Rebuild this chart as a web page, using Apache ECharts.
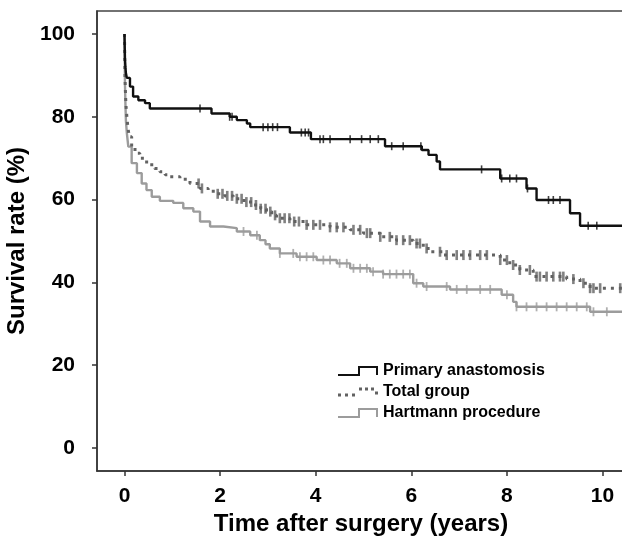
<!DOCTYPE html>
<html>
<head>
<meta charset="utf-8">
<script src="https://cdn.jsdelivr.net/npm/echarts@6/dist/echarts.min.js"></script>
<style>
  html, body { margin: 0; padding: 0; background: #fff; }
  #chart { width: 622px; height: 547px; }
</style>
</head>
<body>
<div id="chart"></div>
<script>
// tick labels
const xTicks = [0, 2, 4, 6, 8, 10];
const yTicks = [0, 20, 40, 60, 80, 100];

// Primary anastomosis: event times (years) and survival after each step (%)
const primaryTimes = [0, 0.005, 0.01, 0.02, 0.03, 0.05, 0.115, 0.18, 0.29, 0.43, 0.53, 1.82, 2.2, 2.35, 2.56, 2.63, 3.46, 3.9, 5.45, 6.22, 6.36, 6.53, 6.6, 7.86, 8.41, 8.62, 9.32, 9.53, 10.6];
const primaryRates = [100, 97, 94, 92, 90.5, 89.4, 87.3, 84.9, 84.0, 83.3, 82.0, 80.8, 80.0, 79.2, 78.4, 77.5, 76.2, 74.6, 72.9, 72.0, 70.8, 69.2, 67.3, 65.1, 62.7, 59.9, 56.7, 53.7, 53.7];
const primaryCensored = [1.58, 2.2, 2.25, 2.9, 3.0, 3.1, 3.2, 3.7, 3.78, 3.85, 4.09, 4.16, 4.3, 4.72, 4.96, 5.14, 5.31, 5.59, 5.83, 6.2, 7.47, 7.89, 8.06, 8.2, 8.43, 8.87, 8.97, 9.11, 9.7, 9.88];

// Total group
const totalTimes = [0, 0.005, 0.01, 0.02, 0.03, 0.05, 0.07, 0.1, 0.15, 0.22, 0.32, 0.42, 0.53, 0.63, 0.74, 0.85, 0.95, 1.16, 1.37, 1.58, 1.75, 1.93, 2.1, 2.28, 2.5, 2.69, 2.85, 2.97, 3.08, 3.18, 3.46, 3.81, 4.3, 4.72, 5.0, 5.35, 5.69, 6.04, 6.25, 6.39, 6.67, 7.86, 8.06, 8.27, 8.55, 9.25, 9.53, 9.74, 10.6];
const totalRates = [100, 95, 90, 86, 83, 80, 77.6, 75.2, 72.8, 71.2, 70.0, 69.1, 68.4, 67.5, 66.7, 66.0, 65.5, 64.9, 63.9, 62.7, 62.0, 61.4, 60.9, 60.2, 59.4, 58.7, 57.8, 57.1, 56.2, 55.5, 54.7, 53.9, 53.3, 52.7, 51.9, 51.0, 50.2, 49.4, 48.2, 47.4, 46.6, 45.4, 44.2, 43.0, 41.4, 40.8, 39.8, 38.6, 38.6];
const totalCensored = [1.55, 1.62, 1.95, 2.05, 2.15, 2.25, 2.35, 2.45, 2.55, 2.65, 2.75, 2.85, 2.95, 3.05, 3.15, 3.25, 3.35, 3.45, 3.55, 3.65, 3.81, 3.95, 4.09, 4.3, 4.44, 4.58, 4.79, 4.93, 5.07, 5.14, 5.35, 5.55, 5.69, 5.83, 5.97, 6.11, 6.18, 6.32, 6.6, 6.74, 6.95, 7.09, 7.23, 7.44, 7.58, 7.86, 8.0, 8.13, 8.27, 8.48, 8.62, 8.69, 8.83, 8.97, 9.11, 9.18, 9.39, 9.6, 9.74, 9.81, 9.95, 10.37];

// Hartmann procedure
const hartmannTimes = [0, 0.005, 0.01, 0.02, 0.03, 0.05, 0.08, 0.15, 0.26, 0.36, 0.46, 0.57, 0.74, 1.02, 1.23, 1.44, 1.58, 1.79, 2.07, 2.35, 2.63, 2.83, 2.95, 3.04, 3.25, 3.6, 4.02, 4.44, 4.72, 5.14, 5.41, 6.04, 6.25, 6.81, 7.89, 8.13, 8.2, 9.74, 10.6];
const hartmannRates = [100, 94, 88, 83, 79, 76, 72.8, 68.8, 66.4, 63.9, 62.3, 60.7, 59.7, 59.2, 57.9, 57.1, 54.7, 53.5, 53.1, 52.3, 51.4, 50.2, 49.2, 48.2, 47.0, 46.2, 45.4, 44.6, 43.4, 42.6, 42.0, 39.8, 39.0, 38.3, 37.0, 35.3, 34.1, 32.9, 32.9];
const hartmannCensored = [2.49, 2.77, 3.25, 3.53, 3.67, 3.81, 3.95, 4.16, 4.3, 4.5, 4.65, 4.79, 4.93, 5.07, 5.2, 5.41, 5.55, 5.69, 5.83, 5.97, 6.11, 6.32, 6.74, 6.95, 7.16, 7.44, 7.65, 8.0, 8.2, 8.41, 8.62, 8.83, 9.04, 9.25, 9.46, 9.67, 9.81, 10.09];

const FONT = '"Liberation Sans", Arial, sans-serif';

function pairs(times, rates) {
  return times.map((t, i) => [t, rates[i]]);
}

// survival value of the step curve at time t (for the censor marks)
function rateAt(times, rates, t) {
  let v = rates[0];
  for (let i = 0; i < times.length; i++) {
    if (times[i] <= t) v = rates[i];
  }
  return v;
}

function censorPoints(times, rates, cens) {
  return cens.map(t => [t, rateAt(times, rates, t)]);
}

// legend icons, drawn as a little KM step
const iconSolid = 'path://M0,8H20V0H40V9H38V2H22V10H0Z';
const iconDotted = 'path://M0,7h3v3h-3zM7,7h3v3h-3zM14,7h3v3h-3zM21,1h3v3h-3zM27,1h3v3h-3zM33,1h3v3h-3zM37,5h3v3h-3zM40,10h0v0z';

const chart = echarts.init(document.getElementById('chart'));

chart.setOption({
  animation: false,
  backgroundColor: '#fff',
  grid: {
    left: 97, right: -3, top: 11, bottom: 76,
    show: true, borderColor: '#444', borderWidth: 1.5,
    outerBoundsMode: 'none'
  },
  legend: {
    orient: 'vertical',
    left: 333, top: 356,
    itemWidth: 40, itemHeight: 10, itemGap: 1,
    data: [
      { name: 'Primary anastomosis', icon: iconSolid },
      { name: 'Total group', icon: iconDotted },
      { name: 'Hartmann procedure', icon: iconSolid }
    ],
    textStyle: { fontFamily: FONT, fontWeight: 'bold', fontSize: 16, color: '#000', lineHeight: 20 }
  },
  xAxis: {
    type: 'value', min: -0.575, max: 10.47,
    name: 'Time after surgery (years)', nameLocation: 'middle', nameGap: 36,
    nameTextStyle: { fontFamily: FONT, fontWeight: 'bold', fontSize: 24, color: '#000' },
    axisLine: { show: true, onZero: false, lineStyle: { color: '#333', width: 1.5 } },
    axisTick: { show: true, length: 5, customValues: xTicks, lineStyle: { color: '#333', width: 1.5 } },
    axisLabel: { customValues: xTicks, margin: 15, fontFamily: FONT, fontWeight: 'bold', fontSize: 21, color: '#000' },
    splitLine: { show: false }
  },
  yAxis: {
    type: 'value', min: -5.56, max: 105.56,
    name: 'Survival rate (%)', nameLocation: 'middle', nameGap: 60,
    nameTextStyle: { fontFamily: FONT, fontWeight: 'bold', fontSize: 24, color: '#000' },
    axisLine: { show: true, onZero: false, lineStyle: { color: '#333', width: 1.5 } },
    axisTick: { show: true, length: 5, customValues: yTicks, lineStyle: { color: '#333', width: 1.5 } },
    axisLabel: { customValues: yTicks, margin: 22, fontFamily: FONT, fontWeight: 'bold', fontSize: 21, color: '#000' },
    splitLine: { show: false }
  },
  series: [
    {
      name: 'Hartmann procedure', type: 'line', step: 'end', showSymbol: false,
      data: pairs(hartmannTimes, hartmannRates),
      itemStyle: { color: '#9c9c9c' },
      lineStyle: { color: '#9c9c9c', width: 2.4 }, z: 2
    },
    {
      type: 'scatter', symbol: 'rect', symbolSize: [1.8, 9],
      data: censorPoints(hartmannTimes, hartmannRates, hartmannCensored),
      itemStyle: { color: '#9c9c9c' }, z: 2
    },
    {
      name: 'Total group', type: 'line', step: 'end', showSymbol: false,
      data: pairs(totalTimes, totalRates),
      itemStyle: { color: '#626262' },
      lineStyle: { color: '#626262', width: 3, type: [3, 5] }, z: 3
    },
    {
      type: 'scatter', symbol: 'rect', symbolSize: [2.6, 10],
      data: censorPoints(totalTimes, totalRates, totalCensored),
      itemStyle: { color: '#626262' }, z: 3
    },
    {
      name: 'Primary anastomosis', type: 'line', step: 'end', showSymbol: false,
      data: pairs(primaryTimes, primaryRates),
      itemStyle: { color: '#111' },
      lineStyle: { color: '#111', width: 2.4 }, z: 4
    },
    {
      type: 'scatter', symbol: 'rect', symbolSize: [1.6, 8],
      data: censorPoints(primaryTimes, primaryRates, primaryCensored),
      itemStyle: { color: '#111' }, z: 4
    }
  ]
});
</script>
</body>
</html>
